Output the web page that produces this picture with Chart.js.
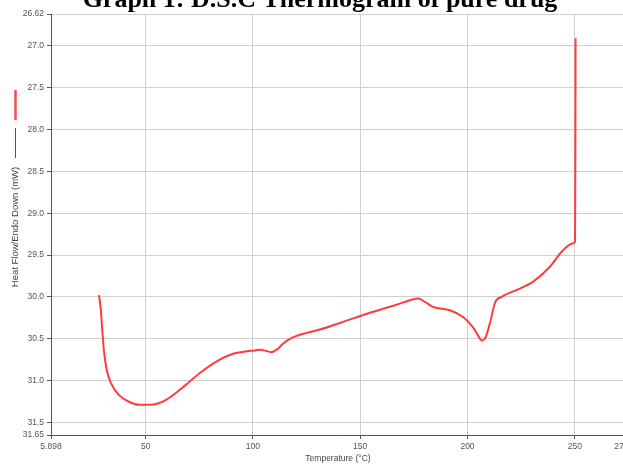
<!DOCTYPE html>
<html>
<head>
<meta charset="utf-8">
<script src="https://cdn.jsdelivr.net/npm/chart.js@4.4.1/dist/chart.umd.min.js"></script>
<style>
body { margin: 0; overflow: hidden; background: #fff; }
#wrap { width: 640px; height: 464px; }
</style>
</head>
<body>
<div id="wrap"><canvas id="dscChart"></canvas></div>
<script>
// temperature (°C) and heat flow (mW)
const temps = [28.27, 29.1, 29.8, 30.6, 31.85, 34.0, 37.5, 42.0, 47.4, 52.0, 56.0, 59.5, 63.5, 68.3, 75.3, 83.1, 90.7, 97.1,
  101.0, 103.3, 106.0, 108.5, 111.1, 114.0, 118.1, 125.0, 131.2, 142.9, 154.5, 166.2, 173.2, 176.9, 180.2, 183.9,
  191.8, 197.9, 202.5, 204.9, 206.6, 208.1, 210.5, 212.8, 215.9, 224.4, 230.5, 238.4, 244.6, 249.3, 250.1,
  250.2, 250.3, 250.35];
const heatFlow = [29.98, 30.15, 30.40, 30.65, 30.87, 31.04, 31.17, 31.25, 31.29, 31.29, 31.27, 31.23, 31.16, 31.06, 30.91, 30.77, 30.68, 30.65,
  30.64, 30.63, 30.645, 30.66, 30.63, 30.56, 30.49, 30.43, 30.39, 30.29, 30.19, 30.10, 30.04, 30.02, 30.06, 30.12,
  30.16, 30.24, 30.36, 30.46, 30.52, 30.50, 30.31, 30.07, 30.00, 29.90, 29.82, 29.64, 29.44, 29.36, 29.34,
  28.84, 27.89, 26.91];

const xTicks = [5.898, 50, 100, 150, 200, 250, 273.4];
const xLabels = ['5.898', '50', '100', '150', '200', '250', '273.4'];
const yTicks = [26.62, 27.0, 27.5, 28.0, 28.5, 29.0, 29.5, 30.0, 30.5, 31.0, 31.5, 31.65];
const yLabels = ['26.62', '27.0', '27.5', '28.0', '28.5', '29.0', '29.5', '30.0', '30.5', '31.0', '31.5', '31.65'];

const points = temps.map((t, i) => ({ x: t, y: heatFlow[i] }));

const tickFont = { family: 'Liberation Sans', size: 8.5 };

// title, axis titles and the little legend strokes next to the y title
const decorations = {
  id: 'decorations',
  afterDraw(chart) {
    const c = chart.ctx;
    c.save();
    c.fillStyle = '#000';
    c.font = 'bold 26px "Liberation Serif"';
    c.textAlign = 'center';
    c.textBaseline = 'alphabetic';
    c.fillText('Graph 1: D.S.C Thermogram of pure drug', 320, 7);

    c.fillStyle = '#444';
    c.font = '8.5px "Liberation Sans"';
    c.textBaseline = 'middle';
    c.fillText('Temperature (°C)', 338, 459);

    c.font = '9.5px "Liberation Sans"';
    c.translate(15, 227);
    c.rotate(-Math.PI / 2);
    c.fillText('Heat Flow/Endo Down (mW)', 0, 0);
    c.restore();

    c.save();
    c.lineWidth = 1;
    c.strokeStyle = '#555';
    c.beginPath();
    c.moveTo(15.5, 128);
    c.lineTo(15.5, 158);
    c.stroke();
    c.lineWidth = 2.5;
    c.strokeStyle = '#ff4a4a';
    c.beginPath();
    c.moveTo(15.5, 90);
    c.lineTo(15.5, 120);
    c.stroke();
    c.restore();
  }
};

const ctx = document.getElementById('dscChart').getContext('2d');

const dscChart = new Chart(ctx, {
  type: 'line',
  data: {
    datasets: [{
      label: 'Heat Flow',
      data: points,
      borderColor: '#ff3c3c',
      borderWidth: 2,
      pointRadius: 0,
      cubicInterpolationMode: 'monotone',
      fill: false
    }]
  },
  options: {
    responsive: true,
    maintainAspectRatio: false,
    animation: false,
    layout: { padding: { top: 14, right: 15, left: 0, bottom: 0 } },
    plugins: {
      legend: { display: false },
      tooltip: { enabled: false }
    },
    scales: {
      x: {
        type: 'linear',
        min: 5.898,
        max: 273.4,
        afterBuildTicks: (scale) => { scale.ticks = xTicks.map(v => ({ value: v })); },
        afterFit: (scale) => { scale.height = 29; },
        ticks: {
          autoSkip: false,
          maxRotation: 0,
          padding: 3,
          color: '#555',
          font: tickFont,
          callback: (v, i) => xLabels[i]
        },
        grid: { color: '#cfcfcf', lineWidth: 1, tickLength: 4, tickColor: '#555' },
        border: { color: '#555', width: 1 }
      },
      y: {
        type: 'linear',
        reverse: true,
        min: 26.62,
        max: 31.65,
        afterBuildTicks: (scale) => { scale.ticks = yTicks.map(v => ({ value: v })); },
        afterFit: (scale) => { scale.width = 51; },
        ticks: {
          autoSkip: false,
          padding: 3,
          color: '#555',
          font: tickFont,
          callback: (v, i) => yLabels[i]
        },
        grid: { color: '#cfcfcf', lineWidth: 1, tickLength: 4, tickColor: '#555' },
        border: { color: '#555', width: 1 }
      }
    }
  },
  plugins: [decorations]
});
</script>
</body>
</html>
